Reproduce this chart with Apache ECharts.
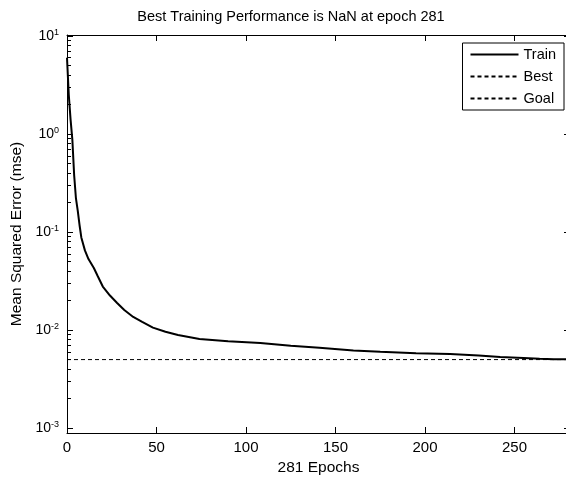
<!DOCTYPE html>
<html>
<head>
<meta charset="utf-8">
<script src="https://cdn.jsdelivr.net/npm/echarts@6/dist/echarts.min.js"></script>
<style>
  html, body { margin: 0; padding: 0; background: #fff; }
  #chart { width: 566px; height: 478px; }
</style>
</head>
<body>
<div id="chart"></div>
<script>
// Training record: epoch and mean squared error
const epochs   = [0, 1, 2, 3, 4, 5, 6, 7, 8, 10, 12, 15, 17, 20, 24, 28, 32, 37, 42, 48,
                  55, 62, 74, 90, 108, 125, 141, 160, 175, 195, 214, 230, 242, 255, 264, 272, 281];
const trainMse = [6.0, 2.5, 1.4, 0.87, 0.38, 0.22, 0.165, 0.118, 0.088, 0.065, 0.053, 0.043, 0.036,
                  0.0278, 0.0225, 0.0189, 0.016, 0.0136, 0.0121, 0.0106,
                  0.0096, 0.0089, 0.0081, 0.0077, 0.0074, 0.0069, 0.0066, 0.0062, 0.0060, 0.0058,
                  0.0057, 0.0055, 0.0053, 0.0052, 0.0051, 0.00505, 0.00502];
const bestMse  = [];          // best performance is NaN: nothing to draw
const goalMse  = 0.005;
const epochMax = 281;

// Axis ticks
const xTicks   = [0, 50, 100, 150, 200, 250];
const yDecades = [-3, -2, -1, 0, 1];   // exponents of the decade labels

const yMin = -3.05, yMax = 1.01;       // log10 range of the y axis
const minorTicks = [];
for (let n = -3; n <= 0; n++) for (let k = 2; k <= 9; k++) minorTicks.push(n + Math.log10(k));

const FONT = 'Liberation Sans, Arial, Helvetica, sans-serif';

const chart = echarts.init(document.getElementById('chart'), null, { renderer: 'canvas' });

const baseY = {
  type: 'value', min: yMin, max: yMax,
  splitLine: { show: false },
  axisLine: { show: true, lineStyle: { color: '#000', width: 1 } }
};
const baseX = {
  type: 'value', min: 0, max: epochMax,
  splitLine: { show: false },
  axisLine: { show: true, onZero: false, lineStyle: { color: '#000', width: 1 } }
};

chart.setOption({
  animation: false,
  backgroundColor: '#fff',
  textStyle: { fontFamily: FONT },
  graphic: [{
    type: 'text', x: 291, y: 17,
    style: {
      text: 'Best Training Performance is NaN at epoch 281',
      font: '14.5px ' + FONT, fill: '#000',
      textAlign: 'center', textVerticalAlign: 'middle'
    }
  }],
  grid: { left: 67, right: -4, top: 35, bottom: 45, containLabel: false, outerBoundsMode: 'none' },
  legend: {
    orient: 'vertical', right: 2, top: 43,
    itemWidth: 48, itemHeight: 14, itemGap: 7,
    padding: [4, 8, 4, 7],
    borderColor: '#000', borderWidth: 1, borderRadius: 0,
    backgroundColor: '#fff',
    itemStyle: { opacity: 0 },
    textStyle: { color: '#000', fontSize: 14.5, fontFamily: FONT },
    data: ['Train', 'Best', 'Goal']
  },
  xAxis: [
    Object.assign({}, baseX, {
      position: 'bottom',
      axisTick: { show: true, inside: true, length: 6, customValues: xTicks, lineStyle: { color: '#000' } },
      axisLabel: { show: true, customValues: xTicks, color: '#000', fontSize: 15, fontFamily: FONT, margin: 7 },
      name: '281 Epochs', nameLocation: 'middle', nameGap: 27,
      nameTextStyle: { color: '#000', fontSize: 15.5, fontFamily: FONT }
    }),
    Object.assign({}, baseX, {
      position: 'top',
      axisTick: { show: true, inside: true, length: 6, customValues: xTicks, lineStyle: { color: '#000' } },
      axisLabel: { show: false }
    })
  ],
  yAxis: [
    Object.assign({}, baseY, {
      position: 'left',
      axisTick: { show: true, inside: true, length: 6, customValues: yDecades, lineStyle: { color: '#000' } },
      axisLabel: {
        show: true, customValues: yDecades, margin: 8, color: '#000',
        formatter: v => '{b|10}{e|' + v + '}',
        rich: {
          b: { fontSize: 14, fontFamily: FONT, color: '#000', lineHeight: 16 },
          e: { fontSize: 9, fontFamily: FONT, color: '#000', verticalAlign: 'top', lineHeight: 16 }
        }
      },
      name: 'Mean Squared Error (mse)', nameLocation: 'middle', nameGap: 40, nameRotate: 90,
      nameTextStyle: { color: '#000', fontSize: 15.5, fontFamily: FONT }
    }),
    Object.assign({}, baseY, {
      position: 'left',
      axisLine: { show: false },
      axisTick: { show: true, inside: true, length: 4, customValues: minorTicks, lineStyle: { color: '#000' } },
      axisLabel: { show: false }
    }),
    Object.assign({}, baseY, {
      position: 'right',
      axisTick: { show: true, inside: true, length: 6, customValues: yDecades, lineStyle: { color: '#000' } },
      axisLabel: { show: false }
    }),
    Object.assign({}, baseY, {
      position: 'right',
      axisLine: { show: false },
      axisTick: { show: true, inside: true, length: 4, customValues: minorTicks, lineStyle: { color: '#000' } },
      axisLabel: { show: false }
    })
  ],
  series: [
    {
      name: 'Train', type: 'line', xAxisIndex: 0, yAxisIndex: 0,
      symbol: 'none', silent: true,
      lineStyle: { color: '#000', width: 2 }, itemStyle: { color: '#000' },
      data: epochs.map((e, i) => [e, Math.log10(trainMse[i])])
    },
    {
      name: 'Best', type: 'line', xAxisIndex: 0, yAxisIndex: 0,
      symbol: 'none', silent: true,
      lineStyle: { color: '#000', width: 1, type: [4, 3] }, itemStyle: { color: '#000' },
      data: bestMse.map(v => Math.log10(v))
    },
    {
      name: 'Goal', type: 'line', xAxisIndex: 0, yAxisIndex: 0,
      symbol: 'none', silent: true,
      lineStyle: { color: '#000', width: 1, type: [4, 3] }, itemStyle: { color: '#000' },
      data: [[0, Math.log10(goalMse)], [epochMax, Math.log10(goalMse)]]
    }
  ]
});
</script>
</body>
</html>
